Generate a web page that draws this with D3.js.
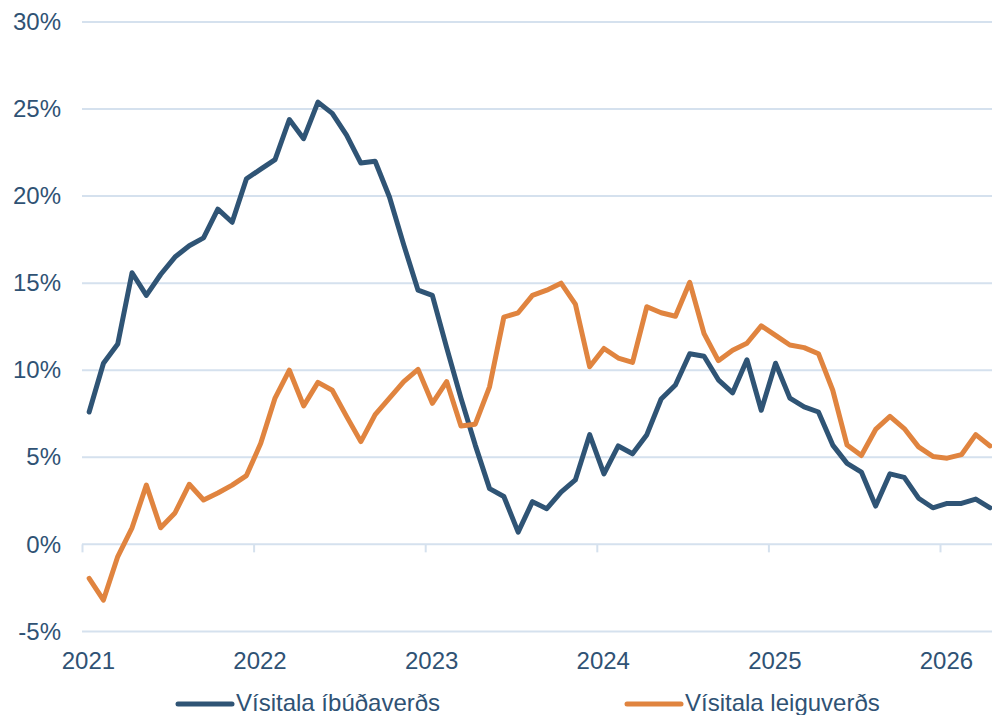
<!DOCTYPE html>
<html>
<head>
<meta charset="utf-8">
<script src="https://cdn.jsdelivr.net/npm/d3@7"></script>
<style>
	html, body { margin: 0; padding: 0; background: #fff; }
	#chart { width: 992px; height: 715px; overflow: hidden; }
	text { font-family: 'Liberation Sans', Arial, sans-serif; fill: #2f5274; }
</style>
</head>
<body>
<div id="chart"></div>
<script>
// monthly data, Jan 2021 - Apr 2026 (12 month change, %)
const yearLabels = ['2021', '2022', '2023', '2024', '2025', '2026'];
const yTicks = [-5, 0, 5, 10, 15, 20, 25, 30];
const seriesNames = ['Vísitala íbúðaverðs', 'Vísitala leiguverðs'];

const housePrice = [
	7.6, 10.4, 11.5, 15.6, 14.3, 15.5, 16.5, 17.15, 17.6, 19.25, 18.5, 21.0,
	21.55, 22.1, 24.4, 23.3, 25.4, 24.75, 23.5, 21.9, 22.0, 19.95, 17.2, 14.6,
	14.3, 11.3, 8.4, 5.7, 3.2, 2.75, 0.7, 2.45, 2.05, 3.0, 3.7, 6.3,
	4.05, 5.65, 5.2, 6.3, 8.35, 9.15, 10.95, 10.8, 9.45, 8.7, 10.6, 7.7,
	10.4, 8.4, 7.9, 7.6, 5.7, 4.65, 4.15, 2.2, 4.05, 3.85, 2.65, 2.1,
	2.35, 2.35, 2.6, 2.1
];

const rentPrice = [
	-1.95, -3.2, -0.7, 0.95, 3.4, 0.95, 1.8, 3.45, 2.55, 2.95, 3.4, 3.95,
	5.8, 8.4, 10.0, 7.95, 9.3, 8.85, 7.35, 5.9, 7.45, 8.4, 9.35, 10.05,
	8.1, 9.35, 6.8, 6.9, 9.05, 13.05, 13.3, 14.3, 14.6, 15.0, 13.8, 10.2,
	11.25, 10.7, 10.45, 13.65, 13.3, 13.1, 15.05, 12.1, 10.55, 11.15, 11.55, 12.55,
	12.0, 11.45, 11.3, 10.95, 8.85, 5.7, 5.1, 6.6, 7.35, 6.65, 5.6, 5.05,
	4.95, 5.15, 6.3, 5.65
];

const colors = ['#2f5475', '#e0843f'];

const width = 992;
const height = 715;
const marginLeft = 82;
const plotTop = 22;
const plotBottom = 631.4;
const monthW = 14.3;
const fontSize = '24px';

const $svg = d3.select('#chart').append('svg')
	.attr('width', width)
	.attr('height', height);

// scales
const scaleX = d3.scaleLinear()
	.domain([0, housePrice.length])
	.range([marginLeft, marginLeft + housePrice.length * monthW]);

const scaleY = d3.scaleLinear()
	.domain([-5, 30])
	.range([plotBottom, plotTop]);

// gridlines
const $grid = $svg.append('g').attr('class', 'g-grid');
$grid.selectAll('line')
	.data(yTicks)
	.enter()
	.append('line')
	.attr('x1', marginLeft)
	.attr('x2', width)
	.attr('y1', d => scaleY(d))
	.attr('y2', d => scaleY(d))
	.attr('stroke', '#d5e1ee')
	.attr('stroke-width', 2);

// y axis labels
const $yAxis = $svg.append('g')
	.attr('class', 'g-axis-y')
	.attr('transform', 'translate(61,0)')
	.call(d3.axisLeft(scaleY).tickValues(yTicks).tickSize(0).tickPadding(0).tickFormat(d => d + '%'));
$yAxis.select('.domain').remove();
$yAxis.selectAll('text')
	.style('font-size', fontSize)
	.attr('fill', '#2f5274');

// x axis on the zero line
const yearTicks = yearLabels.map((d, i) => i * 12);
const $xAxis = $svg.append('g')
	.attr('class', 'g-axis-x')
	.attr('transform', `translate(0,${scaleY(0)})`)
	.call(d3.axisBottom(scaleX).tickValues(yearTicks).tickSize(8).tickFormat(''));
$xAxis.select('.domain').remove();
$xAxis.selectAll('line').attr('stroke', '#d5e1ee').attr('stroke-width', 2);

$svg.append('g')
	.attr('class', 'g-year-labels')
	.selectAll('text')
	.data(yearLabels)
	.enter()
	.append('text')
	.attr('x', (d, i) => scaleX(i * 12 + 0.45))
	.attr('y', 669)
	.attr('text-anchor', 'middle')
	.style('font-size', fontSize)
	.text(d => d);

// lines
const line = d3.line()
	.x((d, i) => scaleX(i + 0.5))
	.y(d => scaleY(d));

const $vis = $svg.append('g').attr('class', 'g-vis');
$vis.selectAll('path')
	.data([housePrice, rentPrice])
	.enter()
	.append('path')
	.attr('d', line)
	.attr('fill', 'none')
	.attr('stroke', (d, i) => colors[i])
	.attr('stroke-width', 5)
	.attr('stroke-linejoin', 'round')
	.attr('stroke-linecap', 'round');

// legend (text runs off the bottom edge, as in the original)
const legendX = [178, 627];
const $legend = $svg.append('g').attr('class', 'g-legend');
const $item = $legend.selectAll('g')
	.data(seriesNames)
	.enter()
	.append('g')
	.attr('transform', (d, i) => `translate(${legendX[i]},704)`);

$item.append('line')
	.attr('x1', 0)
	.attr('x2', 54)
	.attr('stroke', (d, i) => colors[i])
	.attr('stroke-width', 5)
	.attr('stroke-linecap', 'round');

$item.append('text')
	.attr('x', 58)
	.attr('y', 7)
	.style('font-size', fontSize)
	.text(d => d);
</script>
</body>
</html>
